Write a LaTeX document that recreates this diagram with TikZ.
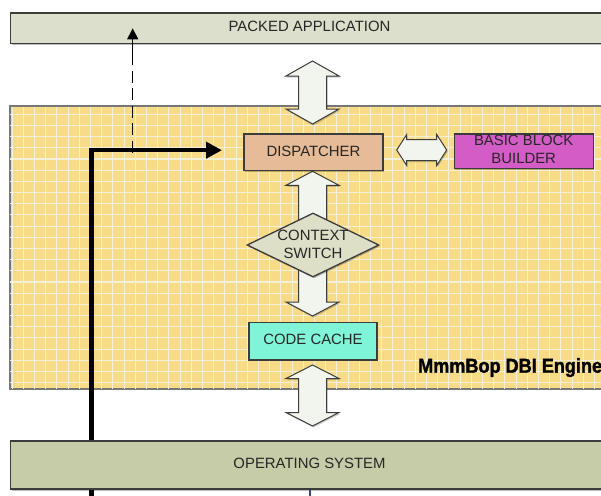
\documentclass[tikz,border=0pt]{standalone}
\usepackage{fontspec}
\setmainfont{Liberation Sans}
\newfontfamily\engfont{Liberation Sans Bold}[FakeBold=1.6,FakeStretch=0.9]
\usetikzlibrary{shapes.geometric,arrows.meta,shadows}
\definecolor{pafill}{HTML}{DCDFCB}
\definecolor{osfill}{HTML}{C6CCA8}
\definecolor{engfill}{HTML}{F8DB87}
\definecolor{gridcol}{HTML}{F3EFD9}
\definecolor{dispfill}{HTML}{E6BB97}
\definecolor{bbbfill}{HTML}{D45CC7}
\definecolor{csfill}{HTML}{DDDFC7}
\definecolor{ccfill}{HTML}{80F4D6}
\definecolor{arrowfill}{HTML}{F2F4EE}
\definecolor{bordercol}{HTML}{3C3C3C}
\definecolor{enggray}{HTML}{777777}
\definecolor{txtcol}{HTML}{262626}
\definecolor{oscable}{HTML}{34477A}
\begin{document}
\begin{tikzpicture}[x=1pt,y=-1pt,
  box/.style={draw=bordercol, line width=1.3pt, inner sep=0pt, text=txtcol,
    font=\fontsize{14.9}{18}\selectfont,
    drop shadow={shadow xshift=1pt, shadow yshift=-1.5pt, fill=black, opacity=0.25}},
  boxtext/.style={inner sep=0pt, text=txtcol, font=\fontsize{14.9}{18}\selectfont, align=center},
  blockarrow/.style={draw=bordercol, fill=arrowfill, line width=1pt, line join=miter,
    drop shadow={shadow xshift=1pt, shadow yshift=-1.5pt, fill=black, opacity=0.2}},
  gridln/.style={draw=gridcol, line width=1.1pt},
  engborder/.style={draw=enggray, line width=1.2pt},
  thickline/.style={draw=black, line width=4.2pt, line join=miter},
  dashline/.style={draw=black, line width=1.3pt},
]
\useasboundingbox (0,0) rectangle (601,495);
\clip (0,0) rectangle (601,495);
\fill[white] (0,0) rectangle (601,495);

% packed application
\node[box, fill=pafill, minimum width=598pt, minimum height=30.7pt] (pa) at (309.5,28.3) {};
\node[boxtext] (patext) at (309.5,26.6) {PACKED APPLICATION};

% engine with grid
\node[box, draw=enggray, fill=engfill, minimum width=598pt, minimum height=281.8pt] (eng) at (309.5,247.6) {};
\begin{scope}
  \clip (eng.north west) rectangle (eng.south east);
  \foreach \i in {0,...,52} \draw[gridln] ({12.1+11.2*\i},100) -- ({12.1+11.2*\i},395);
  \foreach \j in {-1,...,25} \draw[gridln] (0,{114.3+11.18*\j}) -- (620,{114.3+11.18*\j});
\end{scope}
\draw[engborder] (eng.north west) rectangle (eng.south east);

% dispatcher position (needed for the thick line)
\coordinate (dispc) at (313.5,152.4);

% thick black line and dashed branch
\coordinate (blbot) at (91.5,500);
\coordinate (bltip) at (222,150.2);
\draw[thickline, -{Triangle[length=16pt,width=16pt]}] (blbot) |- (bltip);
\coordinate (dsrc) at (132.7,152.5);
\coordinate (dmid) at (132.7,65);
\coordinate (dtip) at (132.7,28.3);
\draw[dashline, dash pattern=on 12pt off 5.5pt] (dsrc) -- (dmid);
\draw[dashline, -{Triangle[length=11pt,width=11pt]}] (dmid) -- (dtip);

% operating system
\node[box, fill=osfill, minimum width=598pt, minimum height=48pt] (os) at (309.5,465) {};
\node[boxtext] (ostext) at (309.5,463.8) {OPERATING SYSTEM};
\coordinate (cab1) at (310,489.5);
\coordinate (cab2) at (310,500);
\draw[draw=oscable, line width=2.5pt] (cab1) -- (cab2);

% block double arrows
\draw[blockarrow] (312.5,61) -- (339,76) -- (326.5,76) -- (326.5,109) -- (339,109) -- (312.5,124)
  -- (286,109) -- (298.5,109) -- (298.5,76) -- (286,76) -- cycle;
\draw[blockarrow] (312.5,171.3) -- (339,185.3) -- (326.5,185.3) -- (326.5,302) -- (339,302) -- (312.5,316)
  -- (286,302) -- (298.5,302) -- (298.5,185.3) -- (286,185.3) -- cycle;
\draw[blockarrow] (312.5,365) -- (339,378.5) -- (326.5,378.5) -- (326.5,412.5) -- (339,412.5) -- (312.5,426)
  -- (286,412.5) -- (298.5,412.5) -- (298.5,378.5) -- (286,378.5) -- cycle;
\draw[blockarrow] (396.7,150) -- (406.7,134.5) -- (406.7,139.5) -- (436.7,139.5) -- (436.7,134.5) -- (446.7,150)
  -- (436.7,165.5) -- (436.7,160.5) -- (406.7,160.5) -- (406.7,165.5) -- cycle;

% inner nodes
\node[box, fill=dispfill, minimum width=139pt, minimum height=36.7pt] (disp) at (dispc) {};
\node[boxtext] (disptext) at (313.5,151.7) {DISPATCHER};
\node[box, fill=bbbfill, minimum width=139pt, minimum height=34.7pt] (bbb) at (523.7,151.4) {};
\node[boxtext, font=\fontsize{14.9}{17.3}\selectfont] (bbbtext) at (523.7,149.5) {BASIC BLOCK\\BUILDER};
\node[box, diamond, fill=csfill, minimum width=132pt, minimum height=64pt] (cs) at (313,245) {};
\node[boxtext] (cstext) at (313,244) {CONTEXT\\SWITCH};
\node[box, fill=ccfill, minimum width=128pt, minimum height=37.3pt] (cc) at (313,341.3) {};
\node[boxtext] (cctext) at (313,339.5) {CODE CACHE};

% engine title
\node[anchor=base west, inner sep=0pt, text=black, font=\engfont\fontsize{20.1}{24}\selectfont] (engtitle) at (418,372.7) {MmmBop DBI Engine};
\end{tikzpicture}
\end{document}
